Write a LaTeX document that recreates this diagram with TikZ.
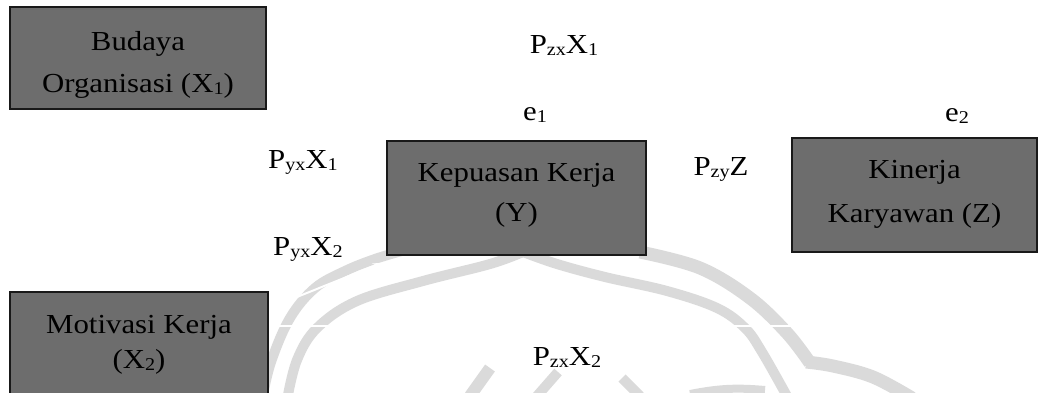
\documentclass[tikz,border=0pt]{standalone}
\usepackage{fontspec}
\setmainfont{Liberation Serif}[FakeStretch=1.12]
\usetikzlibrary{calc,arrows.meta}

\definecolor{boxgray}{HTML}{6D6D6D}
\definecolor{logogray}{HTML}{DADADA}

\pgfdeclarelayer{under}
\pgfsetlayers{under,main}

% lowered small index, as in P_yx
\newcommand\lo[1]{\raisebox{-2pt}{\fontsize{18}{18}\selectfont #1}}

\begin{document}
\begin{tikzpicture}[x=1pt,y=-1pt,
  box/.style={draw=black!90, line width=1.3pt, fill=boxgray, align=center,
    inner sep=0pt, minimum width=#1},
  lbl/.style={inner sep=0pt, anchor=base, font=\fontsize{27.5}{27.5}\selectfont},
  link/.style={draw=white, line width=2pt},
  tip/.style={-{Stealth[length=10pt,width=6pt]}},
  logo/.style={draw=logogray, line cap=butt, line join=round},
]
\useasboundingbox (0,0) rectangle (1040,392);

% boxes (text height = top of text to last baseline)
\node[box=256pt, minimum height=102pt, text height=74pt, text depth=6pt,
  font=\fontsize{27.5}{42}\selectfont] (bud) at (138,58)
  {Budaya\\Organisasi (X\lo{1})};
\node[box=259pt, minimum height=114pt, text height=52pt, text depth=6pt,
  font=\fontsize{27.5}{40}\selectfont] (kep) at (516.5,198)
  {Kepuasan Kerja\\(Y)};
\node[box=245pt, minimum height=114pt, text height=60pt, text depth=6pt,
  font=\fontsize{27.5}{44}\selectfont] (kin) at (914.5,195)
  {Kinerja\\Karyawan (Z)};
\node[box=258pt, minimum height=104pt, text height=54pt, text depth=6pt,
  font=\fontsize{27.5}{35}\selectfont] (mot) at (139,344)
  {Motivasi Kerja\\(X\lo{2})};

% residual terms
\node[lbl] (e1) at (535,120) {e\lo{1}};
\node[lbl] (e2) at (957,121) {e\lo{2}};

% path coefficients
\node[lbl] (pzx1) at (564,53) {P\lo{zx}X\lo{1}};
\node[lbl] (pyx1) at (303,168) {P\lo{yx}X\lo{1}};
\node[lbl] (pyx2) at (308,255) {P\lo{yx}X\lo{2}};
\node[lbl] (pzy)  at (721,175) {P\lo{zy}Z};
\node[lbl] (pzx2) at (567,365) {P\lo{zx}X\lo{2}};

\begin{pgfonlayer}{under}
% faint emblem in the background
\begin{scope}
\clip (0,0) rectangle (1040,392);
\draw[logo, line width=10pt] plot[smooth, tension=0.6] coordinates
  {(262,400) (271,362) (290,318) (315,288) (345,271) (375,259) (405,250)};
\draw[logo, line width=10pt] plot[smooth, tension=0.6] coordinates
  {(287,400) (297,360) (317,328) (357,301) (423,281) (490,264) (523,252)};
\draw[logo, line width=10pt] plot[smooth, tension=0.6] coordinates
  {(523,252) (557,264) (605,277) (667,291) (717,308) (745,328) (762,352) (788,398)};
\draw[logo, line width=13pt] plot[smooth, tension=0.6] coordinates
  {(640,252) (700,268) (750,298) (787,333) (810,363)};
\draw[logo, line width=13pt] plot[smooth, tension=0.6] coordinates
  {(806,362) (833,366) (873,377) (912,398)};
\draw[logo, line width=12pt] (470,396) -- (490,368);
\draw[logo, line width=10pt] (537,396) -- (558,372);
\draw[logo, line width=10pt] (622,378) -- (640,396);
\draw[logo, line width=8pt] (690,394) to[bend left=8] (765,390);
\end{scope}

% paths (drawn in white)
\coordinate (m1) at ($(mot.north east)+(0,17)$);
\coordinate (k1) at ($(kep.south west)+(-4,7)$);
\coordinate (m2) at ($(mot.north east)+(0,35)$);
\draw[link, tip] (bud.east) -- (kep.west);
\draw[link, tip] (bud.east) -| (kin.north);
\draw[link, tip] (m1) -- (k1);
\draw[link, tip] (m2) -| (kin.south);
\draw[link, tip] (kep.east) -- (kin.west);
\draw[link, tip] (e1) -- (kep.north);
\draw[link, tip] (e2) -- (kin.north);
\end{pgfonlayer}
\end{tikzpicture}
\end{document}
